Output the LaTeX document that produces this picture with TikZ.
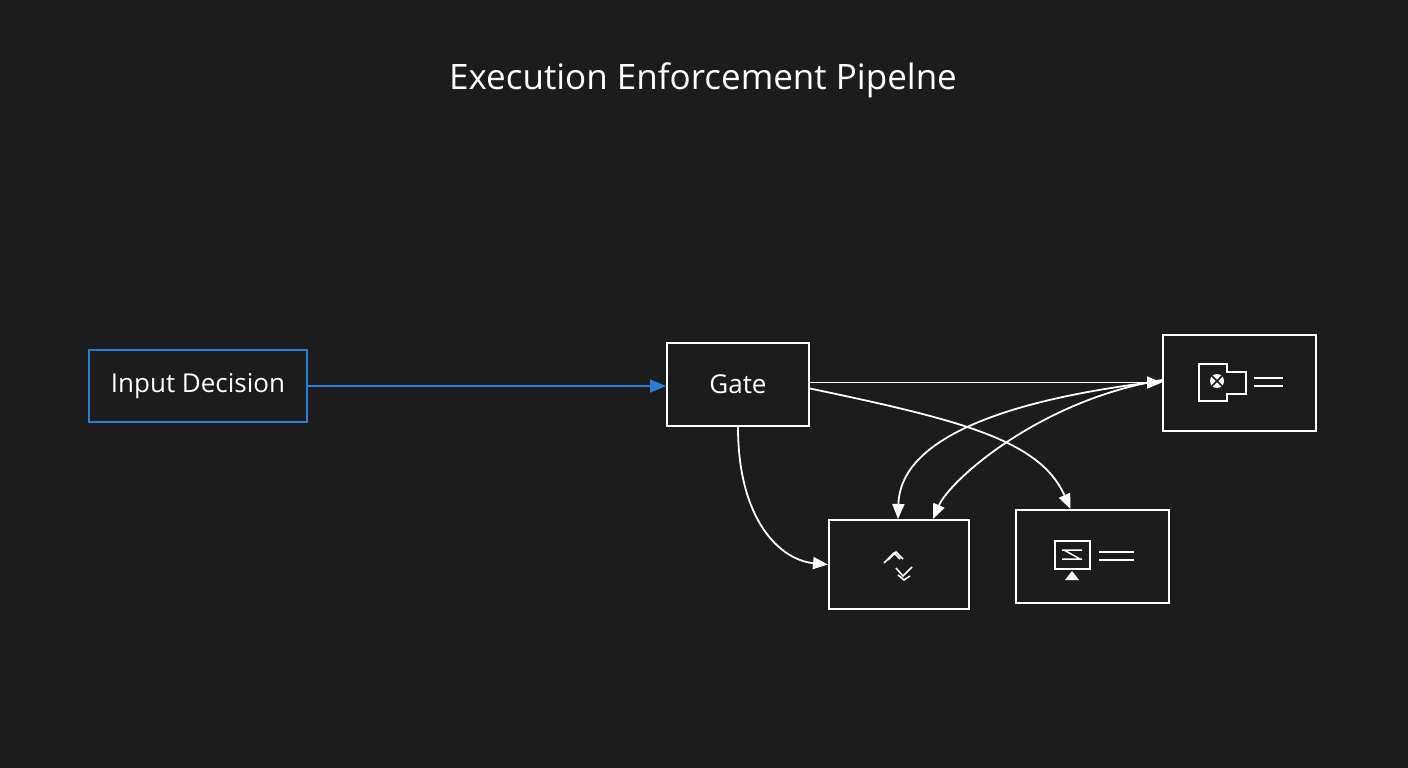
\documentclass[tikz,border=0pt]{standalone}
\usepackage{fontspec}
\setmainfont{Open Sans}
\usetikzlibrary{arrows.meta}
\definecolor{bg}{HTML}{1C1C1C}
\definecolor{bl}{HTML}{2A7FD4}
\begin{document}
\begin{tikzpicture}[x=1pt,y=-1pt,
 box/.style={draw=white,line width=2pt,fill=bg},
 con/.style={draw=white,line width=1.8pt,-{Triangle[length=15pt,width=12pt]}},
 ico/.style={draw=white,line width=1.6pt}]
\fill[bg] (0,0) rectangle (1408,768);
\useasboundingbox (0,0) rectangle (1408,768);
\node[white,font=\fontsize{35}{40}\selectfont] (title) at (703,80) {Execution Enforcement Pipelne};
\node[draw=bl,line width=2pt,fill=bg,minimum width=218pt,minimum height=72pt,text=white,font=\fontsize{26}{30}\selectfont] (in) at (198,386) {Input Decision};
\node[box,minimum width=142pt,minimum height=83pt,text=white,font=\fontsize{26}{30}\selectfont] (gate) at (738,384.5) {Gate};
\node[box,minimum width=153pt,minimum height=96pt] (tr) at (1239.5,383) {};
\node[box,minimum width=140pt,minimum height=89pt] (bm) at (899,564.5) {};
\node[box,minimum width=153pt,minimum height=93pt] (br) at (1092.5,556.5) {};
\draw[bl,line width=1.8pt,-{Triangle[length=16pt,width=13pt]}] (in.east) -- (in.east -| gate.west);
\draw[con] ([yshift=2pt]gate.east) -- ([yshift=2pt]gate.east -| tr.west);
\draw[con] ([yshift=-4pt]gate.east) .. controls (960,420) and (1040,440) .. ([xshift=-22pt]br.north);
\draw[con] (gate.south) .. controls (738,520) and (780,560) .. (bm.west);
\draw[con] ([yshift=2pt]tr.west) .. controls (1000,400) and (900,440) .. ([xshift=-1pt]bm.north);
\draw[con] ([yshift=3pt]tr.west) .. controls (1040,400) and (950,480) .. ([xshift=34pt]bm.north);
% icons
\draw[ico] (1199,364) -- (1227,364) -- (1227,372) -- (1246,372) -- (1246,394) -- (1227,394) -- (1227,401) -- (1199,401) -- cycle;
\fill[white] (1217,381) circle (7pt);
\draw[bg,line width=1.6pt] (1212,376) -- (1222,386) (1222,376) -- (1212,386);
\draw[ico] (1254,378) -- (1283,378) (1254,386) -- (1283,386);
\draw[ico] (1055,541) rectangle (1090,569);
\fill[white] (1065,580) -- (1072,571) -- (1079,580) -- cycle;
\draw[white,line width=1.5pt] (1062,550)--(1082,550) (1062,559)--(1082,559) (1064,550)--(1080,559);
\draw[ico] (1099,552) -- (1134,552) (1099,560) -- (1134,560);
\draw[ico] (884,563) -- (894,553) -- (900,559) (888,560)--(896,552) -- (903,559);
\draw[ico] (896,568) -- (903,576) -- (912,567) (898,575)--(904,580)--(910,576);
\end{tikzpicture}
\end{document}
